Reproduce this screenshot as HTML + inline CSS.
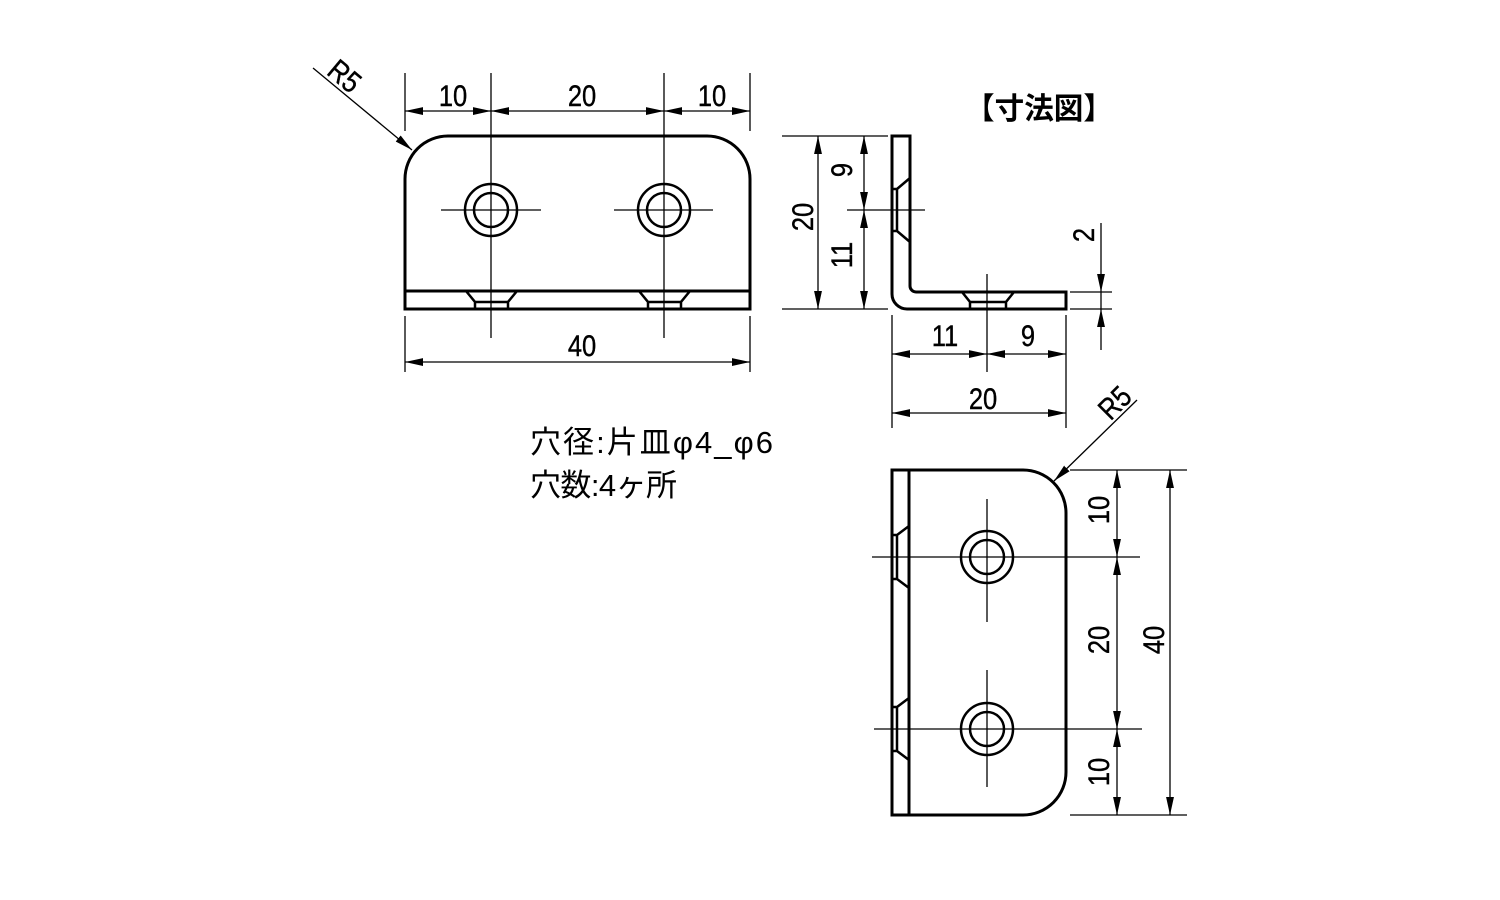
<!DOCTYPE html>
<html><head><meta charset="utf-8"><style>
html,body{margin:0;padding:0;background:#fff;}
svg{display:block}
text{font-family:"Liberation Sans","Noto Sans CJK JP",sans-serif;fill:#000}
</style></head><body>
<svg width="1500" height="900" viewBox="0 0 1500 900" xmlns="http://www.w3.org/2000/svg">
<defs>
<marker id="a" markerUnits="userSpaceOnUse" markerWidth="18" markerHeight="10" refX="16" refY="4" orient="auto-start-reverse" viewBox="0 0 16 8">
<path d="M0,0.5 L16,4 L0,7.5 Z" fill="#000"/></marker>
</defs>
<g fill="none" stroke="#000" stroke-width="3">
<path d="M405,309 L405,179 A43,43 0 0 1 448,136 L707,136 A43,43 0 0 1 750,179 L750,309 Z"/>
<line x1="405" y1="291" x2="750" y2="291"/>
<circle cx="491" cy="210" r="26" stroke-width="2.5"/><circle cx="491" cy="210" r="17" stroke-width="2.5"/>
<circle cx="664" cy="210" r="26" stroke-width="2.5"/><circle cx="664" cy="210" r="17" stroke-width="2.5"/>
<path d="M466,291 L475,302 L475,309 M475,302 L508,302 M517,291 L508,302 L508,309" stroke-width="2.5"/>
<path d="M639,291 L648,302 L648,309 M648,302 L681,302 M690,291 L681,302 L681,309" stroke-width="2.5"/>
<path d="M892,136 L910,136 L910,286 A6,6 0 0 0 916,292 L1066,292 L1066,309 L907,309 A15,15 0 0 1 892,294 Z"/>
<path d="M910,178 L897,189 L897,231 L910,242 M892,189 L897,189 M892,231 L897,231" stroke-width="2.5"/>
<path d="M962,292 L970,302 L970,309 M970,302 L1006,302 M1014,292 L1006,302 L1006,309" stroke-width="2.5"/>
<path d="M892,470 L1023,470 A43,43 0 0 1 1066,513 L1066,772 A43,43 0 0 1 1023,815 L892,815 Z"/>
<line x1="909" y1="470" x2="909" y2="815"/>
<circle cx="987" cy="557" r="26" stroke-width="2.5"/><circle cx="987" cy="557" r="17" stroke-width="2.5"/>
<circle cx="987" cy="729" r="26" stroke-width="2.5"/><circle cx="987" cy="729" r="17" stroke-width="2.5"/>
<path d="M909,526 L897,535 L897,579 L909,588 M892,535 L897,535 M892,579 L897,579" stroke-width="2.5"/>
<path d="M909,698 L897,707 L897,751 L909,760 M892,707 L897,707 M892,751 L897,751" stroke-width="2.5"/>
</g>
<g fill="none" stroke="#000" stroke-width="1.3">
<line x1="491" y1="73" x2="491" y2="338"/><line x1="664" y1="73" x2="664" y2="338"/>
<line x1="441" y1="210" x2="541" y2="210"/><line x1="614" y1="210" x2="713" y2="210"/>
<line x1="405" y1="73" x2="405" y2="131"/><line x1="750" y1="73" x2="750" y2="131"/>
<line x1="405" y1="316" x2="405" y2="372"/><line x1="750" y1="316" x2="750" y2="372"/>
<line x1="405" y1="111" x2="491" y2="111" marker-start="url(#a)" marker-end="url(#a)"/>
<line x1="491" y1="111" x2="664" y2="111" marker-start="url(#a)" marker-end="url(#a)"/>
<line x1="664" y1="111" x2="750" y2="111" marker-start="url(#a)" marker-end="url(#a)"/>
<line x1="405" y1="362" x2="750" y2="362" marker-start="url(#a)" marker-end="url(#a)"/>
<line x1="313" y1="68" x2="412" y2="150" marker-end="url(#a)"/>
<line x1="782" y1="136" x2="888" y2="136"/><line x1="782" y1="309" x2="888" y2="309"/>
<line x1="847" y1="210" x2="925" y2="210"/>
<line x1="818" y1="136" x2="818" y2="309" marker-start="url(#a)" marker-end="url(#a)"/>
<line x1="864" y1="136" x2="864" y2="210" marker-start="url(#a)" marker-end="url(#a)"/>
<line x1="864" y1="210" x2="864" y2="309" marker-start="url(#a)" marker-end="url(#a)"/>
<line x1="987" y1="274" x2="987" y2="372"/>
<line x1="892" y1="315" x2="892" y2="428"/><line x1="1066" y1="315" x2="1066" y2="428"/>
<line x1="892" y1="354" x2="987" y2="354" marker-start="url(#a)" marker-end="url(#a)"/>
<line x1="987" y1="354" x2="1066" y2="354" marker-start="url(#a)" marker-end="url(#a)"/>
<line x1="892" y1="413" x2="1066" y2="413" marker-start="url(#a)" marker-end="url(#a)"/>
<line x1="1070" y1="292" x2="1112" y2="292"/><line x1="1070" y1="309" x2="1112" y2="309"/>
<line x1="1101" y1="223" x2="1101" y2="292" marker-end="url(#a)"/>
<line x1="1101" y1="350" x2="1101" y2="309" marker-end="url(#a)"/>
<line x1="1101" y1="292" x2="1101" y2="309"/>
<line x1="872" y1="557" x2="1140" y2="557"/><line x1="874" y1="729" x2="1142" y2="729"/>
<line x1="987" y1="499" x2="987" y2="622"/><line x1="987" y1="670" x2="987" y2="787"/>
<line x1="1070" y1="470" x2="1187" y2="470"/><line x1="1070" y1="815" x2="1187" y2="815"/>
<line x1="1117" y1="470" x2="1117" y2="557" marker-start="url(#a)" marker-end="url(#a)"/>
<line x1="1117" y1="557" x2="1117" y2="729" marker-start="url(#a)" marker-end="url(#a)"/>
<line x1="1117" y1="729" x2="1117" y2="815" marker-start="url(#a)" marker-end="url(#a)"/>
<line x1="1170" y1="470" x2="1170" y2="815" marker-start="url(#a)" marker-end="url(#a)"/>
<line x1="1137" y1="400" x2="1054" y2="481" marker-end="url(#a)"/>
</g>
<g font-size="30" text-anchor="middle" stroke="#000" stroke-width="0.4">
<text transform="translate(453,106) scale(0.85,1)">10</text>
<text transform="translate(582,106) scale(0.85,1)">20</text>
<text transform="translate(712,106) scale(0.85,1)">10</text>
<text transform="translate(582,356) scale(0.85,1)">40</text>
<text transform="translate(338,84) rotate(40) scale(0.85,1)">R5</text>
<text transform="translate(813,217) rotate(-90) scale(0.85,1)">20</text>
<text transform="translate(852,170) rotate(-90) scale(0.85,1)">9</text>
<text transform="translate(852,255) rotate(-90) scale(0.85,1)">11</text>
<text transform="translate(1094,235) rotate(-90) scale(0.85,1)">2</text>
<text transform="translate(945,346) scale(0.85,1)">11</text>
<text transform="translate(1028,346) scale(0.85,1)">9</text>
<text transform="translate(983,409) scale(0.85,1)">20</text>
<text transform="translate(1122,410) rotate(-45) scale(0.85,1)">R5</text>
<text transform="translate(1109,510) rotate(-90) scale(0.85,1)">10</text>
<text transform="translate(1109,640) rotate(-90) scale(0.85,1)">20</text>
<text transform="translate(1109,772) rotate(-90) scale(0.85,1)">10</text>
<text transform="translate(1164,640) rotate(-90) scale(0.85,1)">40</text>
</g>
<text x="965" y="119" font-size="30" font-weight="bold" textLength="148" lengthAdjust="spacingAndGlyphs">【寸法図】</text>
<text x="530" y="453" font-size="31" textLength="243" lengthAdjust="spacing">穴径:片皿φ4_φ6</text>
<text x="530" y="496" font-size="31" textLength="147" lengthAdjust="spacing">穴数:4ヶ所</text>
</svg>
</body></html>
